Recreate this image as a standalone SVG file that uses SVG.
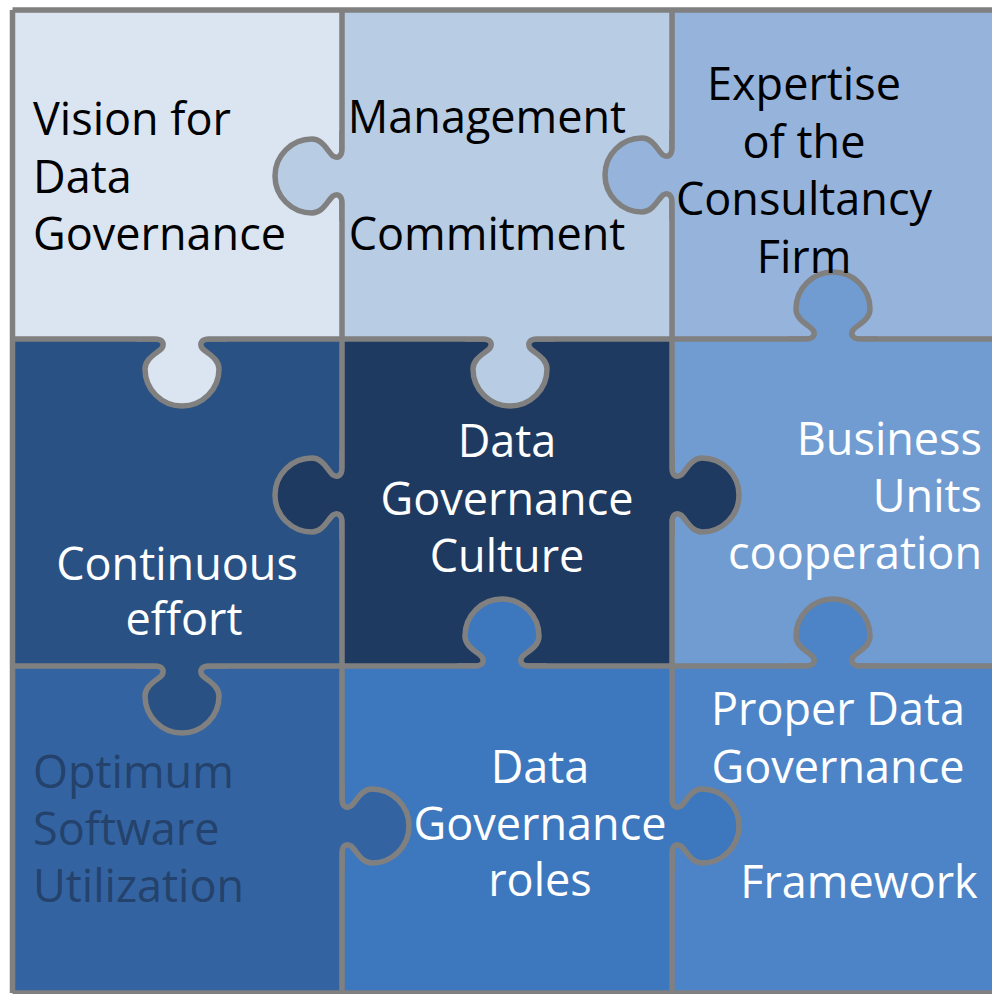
<svg xmlns="http://www.w3.org/2000/svg" xmlns:xlink="http://www.w3.org/1999/xlink" width="992" height="994" viewBox="0 0 992 994">
<style>
.line{fill:none;stroke:#808080;stroke-width:5.5;stroke-linecap:butt;stroke-linejoin:round}
.t{font-family:"Open Sans","Noto Sans","Liberation Sans",sans-serif;font-size:45px}
.dk{fill:#000000}
.wt{fill:#FFFFFF}
.nv{fill:#24426B}
.mid{text-anchor:middle}
.end{text-anchor:end}
</style>
<defs>
<path id="tabLine" d="M -45,0 H -27 C -20,0 -17,4 -20,9 C -24,14 -37,19 -37,30 A 37 37 0 0 0 37,30 C 37,19 24,14 20,9 C 17,4 20,0 27,0 H 45"/>
<path id="tabFill" d="M -45,0 H -27 C -20,0 -17,4 -20,9 C -24,14 -37,19 -37,30 A 37 37 0 0 0 37,30 C 37,19 24,14 20,9 C 17,4 20,0 27,0 H 45 V -5 H -45 Z"/>
</defs>
<rect width="992" height="994" fill="#FFFFFF"/>
<g id="backgrounds">
<rect x="12" y="10" width="330" height="329" fill="#DBE5F1"/>
<rect x="342" y="10" width="330" height="329" fill="#B8CCE4"/>
<rect x="672" y="10" width="330" height="329" fill="#95B3DB"/>
<rect x="12" y="339" width="330" height="327" fill="#2A5183"/>
<rect x="342" y="339" width="330" height="327" fill="#1F3A60"/>
<rect x="672" y="339" width="330" height="327" fill="#719CD2"/>
<rect x="12" y="666" width="330" height="327" fill="#3364A1"/>
<rect x="342" y="666" width="330" height="327" fill="#3D77BE"/>
<rect x="672" y="666" width="330" height="327" fill="#4C84C7"/>
</g>
<g id="connectors">
<path class="line" d="M 12.5,10 H 1000 M 12.5,993 H 1000 M 12.5,10 V 993 M 342,10 V 993 M 672,10 V 993 M 12,339 H 1000 M 12,666 H 1000"/>
<g id="tab-1">
<use xlink:href="#tabFill" transform="translate(342,176) rotate(90)" fill="#B8CCE4"/>
<use xlink:href="#tabLine" class="line" transform="translate(342,176) rotate(90)"/>
</g>
<g id="tab-2">
<use xlink:href="#tabFill" transform="translate(182,339)" fill="#DBE5F1"/>
<use xlink:href="#tabLine" class="line" transform="translate(182,339)"/>
</g>
<g id="tab-3">
<use xlink:href="#tabFill" transform="translate(672,175) rotate(90)" fill="#95B3DB"/>
<use xlink:href="#tabLine" class="line" transform="translate(672,175) rotate(90)"/>
</g>
<g id="tab-4">
<use xlink:href="#tabFill" transform="translate(833,339) rotate(180)" fill="#719CD2"/>
<use xlink:href="#tabLine" class="line" transform="translate(833,339) rotate(180)"/>
</g>
<g id="tab-5">
<use xlink:href="#tabFill" transform="translate(510,339)" fill="#B8CCE4"/>
<use xlink:href="#tabLine" class="line" transform="translate(510,339)"/>
</g>
<g id="tab-6">
<use xlink:href="#tabFill" transform="translate(342,495) rotate(90)" fill="#1F3A60"/>
<use xlink:href="#tabLine" class="line" transform="translate(342,495) rotate(90)"/>
</g>
<g id="tab-7">
<use xlink:href="#tabFill" transform="translate(672,495) rotate(-90)" fill="#1F3A60"/>
<use xlink:href="#tabLine" class="line" transform="translate(672,495) rotate(-90)"/>
</g>
<g id="tab-8">
<use xlink:href="#tabFill" transform="translate(182,666)" fill="#2A5183"/>
<use xlink:href="#tabLine" class="line" transform="translate(182,666)"/>
</g>
<g id="tab-9">
<use xlink:href="#tabFill" transform="translate(502,666) rotate(180)" fill="#3D77BE"/>
<use xlink:href="#tabLine" class="line" transform="translate(502,666) rotate(180)"/>
</g>
<g id="tab-10">
<use xlink:href="#tabFill" transform="translate(833,666) rotate(180)" fill="#4C84C7"/>
<use xlink:href="#tabLine" class="line" transform="translate(833,666) rotate(180)"/>
</g>
<g id="tab-11">
<use xlink:href="#tabFill" transform="translate(342,826) rotate(-90)" fill="#3364A1"/>
<use xlink:href="#tabLine" class="line" transform="translate(342,826) rotate(-90)"/>
</g>
<g id="tab-12">
<use xlink:href="#tabFill" transform="translate(672,826) rotate(-90)" fill="#3D77BE"/>
<use xlink:href="#tabLine" class="line" transform="translate(672,826) rotate(-90)"/>
</g>
</g>
<g id="node-vision" class="t dk">
<text x="33" y="135">Vision for</text>
<text x="33" y="193">Data</text>
<text x="33" y="250">Governance</text>
</g>
<g id="node-management" class="t dk mid">
<text x="487" y="133">Management</text>
<text x="487" y="250">Commitment</text>
</g>
<g id="node-expertise" class="t dk mid">
<text x="804" y="100">Expertise</text>
<text x="804" y="158">of the</text>
<text x="804" y="215">Consultancy</text>
<text x="804" y="273">Firm</text>
</g>
<g id="node-continuous" class="t wt mid">
<text x="177" y="580">Continuous</text>
<text x="184" y="635">effort</text>
</g>
<g id="node-culture" class="t wt mid">
<text x="507" y="457">Data</text>
<text x="507" y="515">Governance</text>
<text x="507" y="572">Culture</text>
</g>
<g id="node-business" class="t wt end">
<text x="982" y="455">Business</text>
<text x="982" y="512">Units</text>
<text x="982" y="569">cooperation</text>
</g>
<g id="node-software" class="t nv">
<text x="33" y="788">Optimum</text>
<text x="33" y="845">Software</text>
<text x="33" y="902">Utilization</text>
</g>
<g id="node-roles" class="t wt mid">
<text x="540" y="783">Data</text>
<text x="540" y="840">Governance</text>
<text x="540" y="896">roles</text>
</g>
<g id="node-framework" class="t wt mid">
<text x="838" y="725">Proper Data</text>
<text x="838" y="783">Governance</text>
<text x="859" y="898">Framework</text>
</g>
</svg>
